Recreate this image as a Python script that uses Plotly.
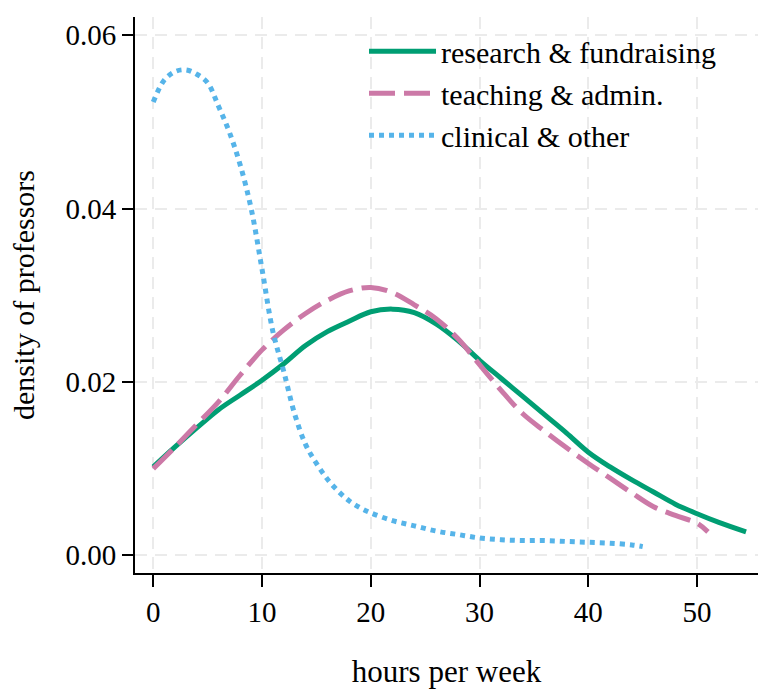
import plotly.graph_objects as go

# ---- data ----
research_x = [0, 2, 4, 6, 8, 10, 12, 14, 16, 18, 20, 22, 24, 26, 28, 30, 32, 34, 36, 38, 40, 42, 44, 46, 48, 50, 52, 54.5]
research_y = [0.0102, 0.0125, 0.0147, 0.0168, 0.0185, 0.0202, 0.0221, 0.0242, 0.0258, 0.0270, 0.0281, 0.0284,
              0.0280, 0.0267, 0.0248, 0.0225, 0.0204, 0.0183, 0.0162, 0.0141, 0.0119, 0.0102, 0.0087, 0.0073,
              0.0059, 0.0048, 0.0038, 0.0027]

teaching_x = [0, 2, 4, 6, 8, 10, 12, 14, 16, 18, 20, 22, 24, 26, 28, 30, 32, 34, 36, 38, 40, 42, 44, 46, 48, 50, 51]
teaching_y = [0.0100, 0.0125, 0.0151, 0.0177, 0.0208, 0.0237, 0.0260, 0.0279, 0.0294, 0.0305, 0.0309, 0.0303,
              0.0289, 0.0273, 0.0250, 0.0220, 0.0190, 0.0163, 0.0143, 0.0124, 0.0106, 0.0089, 0.0072, 0.0056,
              0.0046, 0.0037, 0.0027]

clinical_x = [0, 1, 2, 3, 4, 5, 6, 7, 8, 9, 10, 11, 12, 13, 14, 15, 16, 17, 18, 19, 20, 22, 24, 26, 28, 30,
              32, 34, 36, 38, 40, 42, 44, 45]
clinical_y = [0.0523, 0.0548, 0.0558, 0.0560, 0.0555, 0.0545, 0.0518, 0.0488, 0.0450, 0.0400, 0.0330, 0.0258,
              0.0212, 0.0163, 0.0128, 0.0106, 0.0088, 0.0074, 0.0063, 0.0055, 0.0049, 0.0040, 0.0034, 0.0028,
              0.0024, 0.0020, 0.0018, 0.0017, 0.0017, 0.0016, 0.0015, 0.0014, 0.0012, 0.0010]

series_names = ["research &amp; fundraising", "teaching &amp; admin.", "clinical &amp; other"]

x_ticks = [0, 10, 20, 30, 40, 50]
y_ticks = [0.00, 0.02, 0.04, 0.06]
y_tick_labels = ["0.00", "0.02", "0.04", "0.06"]

FONT = "Liberation Serif"

fig = go.Figure()
fig.add_trace(go.Scatter(x=research_x, y=research_y, mode="lines", name=series_names[0],
                         line=dict(color="#009E73", width=5, shape="spline")))
fig.add_trace(go.Scatter(x=teaching_x, y=teaching_y, mode="lines", name=series_names[1],
                         line=dict(color="#CC79A7", width=5, shape="spline", dash="26px,9px")))
fig.add_trace(go.Scatter(x=clinical_x, y=clinical_y, mode="lines", name=series_names[2],
                         line=dict(color="#56B4E9", width=5, shape="spline", dash="5px,5px")))

fig.update_layout(
    width=758, height=691,
    margin=dict(l=135, r=0, t=17, b=118),
    paper_bgcolor="white", plot_bgcolor="white",
    font=dict(family=FONT, size=29, color="black"),
    showlegend=True,
    legend=dict(x=0.3676, y=0.985, xanchor="left", yanchor="top", bgcolor="rgba(0,0,0,0)",
                font=dict(family=FONT, size=30), tracegroupgap=0, itemwidth=67),
    xaxis=dict(range=[-1.68, 55.6], tickvals=x_ticks, ticks="outside", ticklen=12, tickwidth=2,
               tickcolor="black", showline=True, linecolor="black", linewidth=2, zeroline=False,
               showgrid=True, gridcolor="#ebebeb", gridwidth=2, griddash="12px,8px",
               title=dict(text="hours per week", standoff=34, font=dict(size=31)), tickfont=dict(size=29)),
    yaxis=dict(range=[-0.00204, 0.0621], tickvals=y_ticks, ticktext=y_tick_labels, ticks="outside",
               ticklen=11, tickwidth=2, tickcolor="black", showline=True, linecolor="black", linewidth=2,
               zeroline=False, showgrid=True, gridcolor="#ebebeb", gridwidth=2, griddash="12px,8px",
               title=dict(text="density of professors", standoff=22, font=dict(size=30)), tickfont=dict(size=29)),
)

fig.write_html("out.html")
